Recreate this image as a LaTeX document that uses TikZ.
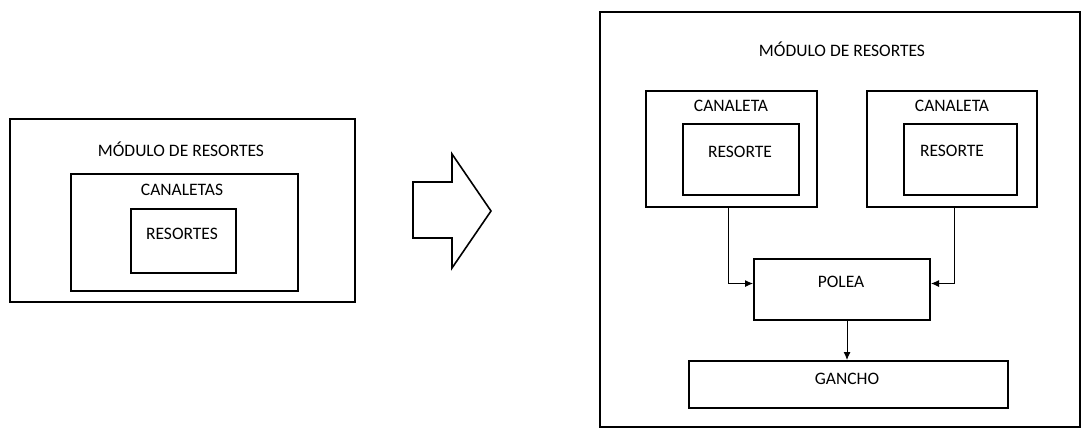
\documentclass[tikz,border=0pt]{standalone}
\usepackage{fontspec}
\setmainfont{Carlito}
\usetikzlibrary{arrows.meta}
\usetikzlibrary{positioning}
\tikzset{caja/.style = {draw, line width = 2pt, inner sep = 0, anchor = north west}}
\tikzset{texto/.style = {font = \fontsize{17.5}{20}\selectfont, inner sep = 0}}
\tikzset{flecha/.style = {-{Latex[length = 8pt, width = 7pt]}, line width = 0.9pt}}

\begin{document}
\begin{tikzpicture}[x = 1pt, y = -1pt]
      \useasboundingbox (0, 0) rectangle (1089, 432);
      % antes
      \node [caja, minimum width = 345, minimum height = 183] (moduloA) at (9, 118) {};
      \node [caja, minimum width = 227, minimum height = 117] (canaletas) at (70, 173) {};
      \node [caja, minimum width = 105, minimum height = 64] (resortes) at (130, 208) {};
      \node [texto] (tModuloA) at (181, 149) {MÓDULO DE RESORTES};
      \node [texto] (tCanaletas) at (182, 190) {CANALETAS};
      \node [texto] (tResortes) at (182, 234) {RESORTES};
      % flecha de bloque
      \draw [line width = 1.6pt, line join = miter] (413, 182) -- (452, 182) -- (452, 154) -- (491, 211) -- (452, 268) -- (452, 238) -- (413, 238) -- cycle;
      % despues
      \node [caja, minimum width = 480, minimum height = 415] (moduloB) at (599, 11) {};
      \node [texto] (tModuloB) at (842, 49) {MÓDULO DE RESORTES};
      \node [caja, minimum width = 171, minimum height = 116] (canaletaL) at (645, 90) {};
      \node [caja, minimum width = 170, minimum height = 116] (canaletaR) at (866, 90) {};
      \node [caja, minimum width = 116, minimum height = 71] (resorteL) at (682, 123) {};
      \node [caja, minimum width = 113, minimum height = 71] (resorteR) at (903, 123) {};
      \node [texto] (tCanaletaL) at (731, 106) {CANALETA};
      \node [texto] (tCanaletaR) at (952, 106) {CANALETA};
      \node [texto] (tResorteL) at (740, 152) {RESORTE};
      \node [texto] (tResorteR) at (952, 151) {RESORTE};
      \node [caja, minimum width = 176, minimum height = 61] (polea) at (753, 258) {};
      \node [texto] (tPolea) at (841, 282) {POLEA};
      \node [caja, minimum width = 319, minimum height = 47] (gancho) at (688, 360) {};
      \node [texto] (tGancho) at (847, 379) {GANCHO};
      \draw [flecha] ([xshift = -3pt]canaletaL.south) |- ([yshift = 6pt]polea.west);
      \draw [flecha] ([xshift = 2pt]canaletaR.south) |- ([yshift = 6pt]polea.east);
      \draw [flecha] ([xshift = 5pt]polea.south) -- ([xshift = 5pt]polea.south |- gancho.north);
    \end{tikzpicture}
\end{document}
